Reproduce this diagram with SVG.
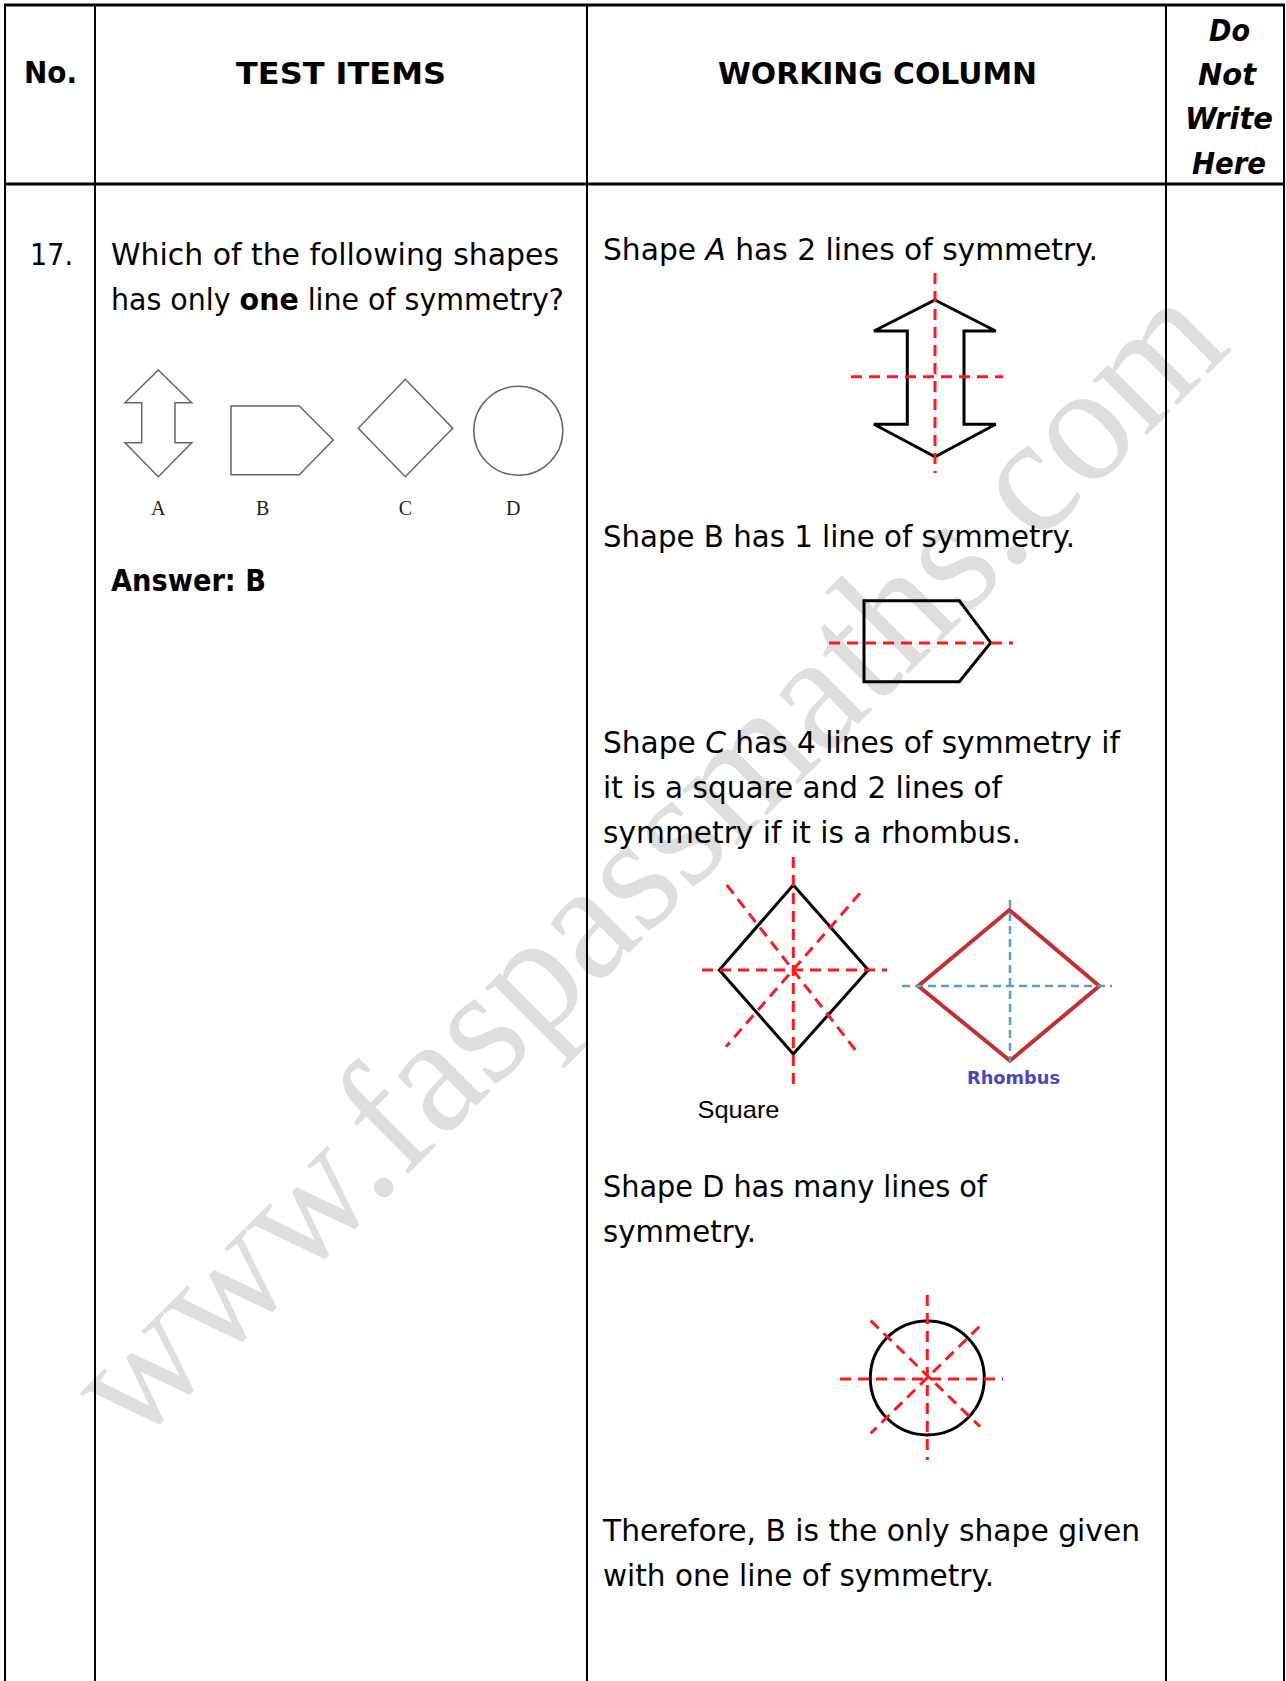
<svg xmlns="http://www.w3.org/2000/svg" width="1286" height="1681" viewBox="0 0 1286 1681">
<style>
.t{font-family:"DejaVu Sans",sans-serif;font-size:29.5px;fill:#000}
.h{font-family:"DejaVu Sans",sans-serif;font-size:30px;font-weight:bold;fill:#000}
.hi{font-style:italic}
.lbl{font-family:"Liberation Serif",serif;font-size:20px;fill:#222}
.g{fill:none;stroke:#666;stroke-width:1.5}
.k{fill:none;stroke:#000;stroke-width:3}
.rd{stroke:#ff1a1a;stroke-width:3;stroke-dasharray:11 7;fill:none}
.bd{stroke:#5b9bd5;stroke-width:2.5;stroke-dasharray:8 5;fill:none}
.grid{stroke:#000;stroke-width:2}
.wm{font-family:"Liberation Serif",serif;font-size:168px;fill:#dedede}
</style>
<rect width="1286" height="1681" fill="#fff"/>
<g id="watermark">
<text class="wm" transform="translate(134,1448) rotate(-45)" textLength="1555" lengthAdjust="spacingAndGlyphs">www.faspassmaths.com</text>
</g>
<g id="table">
<line class="grid" x1="5" y1="4" x2="5" y2="1681"/>
<line class="grid" x1="95" y1="4" x2="95" y2="1681"/>
<line class="grid" x1="587" y1="4" x2="587" y2="1681"/>
<line class="grid" x1="1166" y1="4" x2="1166" y2="1681"/>
<line class="grid" x1="1284" y1="4" x2="1284" y2="1681"/>
<line x1="4" y1="5" x2="1285" y2="5" stroke="#000" stroke-width="3"/>
<line x1="4" y1="184" x2="1285" y2="184" stroke="#000" stroke-width="3"/>
</g>
<g id="header">
<text class="h" x="24" y="83" textLength="53" lengthAdjust="spacingAndGlyphs">No.</text>
<text class="h" x="236" y="84" textLength="210" lengthAdjust="spacingAndGlyphs">TEST ITEMS</text>
<text class="h" x="718" y="84" textLength="319" lengthAdjust="spacingAndGlyphs">WORKING COLUMN</text>
<text class="h hi" x="1209" y="41" textLength="41" lengthAdjust="spacingAndGlyphs">Do</text>
<text class="h hi" x="1198" y="85" textLength="58" lengthAdjust="spacingAndGlyphs">Not</text>
<text class="h hi" x="1185" y="129" textLength="88" lengthAdjust="spacingAndGlyphs">Write</text>
<text class="h hi" x="1192" y="174" textLength="74" lengthAdjust="spacingAndGlyphs">Here</text>
</g>
<g id="question">
<text class="t" x="30" y="265" textLength="43" lengthAdjust="spacingAndGlyphs">17.</text>
<text class="t" x="111" y="265" textLength="448" lengthAdjust="spacingAndGlyphs">Which of the following shapes</text>
<text class="t" x="111" y="310" textLength="453" lengthAdjust="spacingAndGlyphs">has only <tspan font-weight="bold">one</tspan> line of symmetry?</text>
<text class="t" x="111" y="591" font-weight="bold" textLength="155" lengthAdjust="spacingAndGlyphs">Answer: B</text>
</g>
<g id="shapes-question">
<polygon class="g" points="158.3,370 191.7,402.7 175,402.7 175,442.7 191.7,442.7 158.3,476.7 125,442.7 141.7,442.7 141.7,402.7 125,402.7"/>
<polygon class="g" points="231,406 299.3,406 333.3,440 299.3,474.7 231,474.7"/>
<polygon class="g" points="405.3,379.3 452.7,428.3 405.3,476.7 358.3,428.3"/>
<circle class="g" cx="518.3" cy="430.7" r="44.5"/>
<text class="lbl" x="158.3" y="515" text-anchor="middle">A</text>
<text class="lbl" x="262.7" y="515" text-anchor="middle">B</text>
<text class="lbl" x="405.3" y="515" text-anchor="middle">C</text>
<text class="lbl" x="513.3" y="515" text-anchor="middle">D</text>
</g>
<g id="working-text">
<text class="t" x="603" y="260" textLength="495" lengthAdjust="spacingAndGlyphs">Shape <tspan class="hi">A</tspan> has 2 lines of symmetry.</text>
<text class="t" x="603" y="547" textLength="472" lengthAdjust="spacingAndGlyphs">Shape B has 1 line of symmetry.</text>
<text class="t" x="603" y="753" textLength="517" lengthAdjust="spacingAndGlyphs">Shape <tspan class="hi">C</tspan> has 4 lines of symmetry if</text>
<text class="t" x="603" y="798" textLength="399" lengthAdjust="spacingAndGlyphs">it is a square and 2 lines of</text>
<text class="t" x="603" y="843" textLength="418" lengthAdjust="spacingAndGlyphs">symmetry if it is a rhombus.</text>
<text class="t" x="603" y="1197" textLength="384" lengthAdjust="spacingAndGlyphs">Shape D has many lines of</text>
<text class="t" x="603" y="1242" textLength="153" lengthAdjust="spacingAndGlyphs">symmetry.</text>
<text class="t" x="603" y="1541" textLength="537" lengthAdjust="spacingAndGlyphs">Therefore, B is the only shape given</text>
<text class="t" x="603" y="1586" textLength="391" lengthAdjust="spacingAndGlyphs">with one line of symmetry.</text>
</g>
<g id="fig-a">
<polygon class="k" points="935,300 995.7,331 964,331 964,424.3 995.7,424.3 935,456.7 874,424.3 907.3,424.3 907.3,331 874,331"/>
<line class="rd" x1="935" y1="273" x2="935" y2="473"/>
<line class="rd" x1="851" y1="376.7" x2="1003" y2="376.7"/>
</g>
<g id="fig-b">
<polygon class="k" points="864,600.7 959.3,600.7 990.7,642.7 959.3,681.7 864,681.7"/>
<line class="rd" x1="829" y1="643" x2="1013" y2="643"/>
</g>
<g id="fig-c-square">
<polygon class="k" points="793.3,885 868.3,970 793.3,1054 719.3,970"/>
<line class="rd" x1="793.3" y1="857" x2="793.3" y2="1090"/>
<line class="rd" x1="702" y1="970" x2="887" y2="970"/>
<line class="rd" x1="726.7" y1="885" x2="856.7" y2="1051.7"/>
<line class="rd" x1="860" y1="893.3" x2="726" y2="1046.7"/>
<text x="697.5" y="1118" font-family="'Liberation Sans',sans-serif" font-size="24" textLength="82" lengthAdjust="spacingAndGlyphs" fill="#000">Square</text>
</g>
<g id="fig-c-rhombus">
<polygon points="1009.3,910 1099.3,986 1010,1060.7 918.3,986" fill="none" stroke="#c3302e" stroke-width="4"/>
<line class="bd" x1="1010" y1="900" x2="1010" y2="1063"/>
<line class="bd" x1="902" y1="986" x2="1112" y2="986"/>
<text x="967" y="1084" font-family="'DejaVu Sans',sans-serif" font-size="18" font-weight="bold" textLength="93" lengthAdjust="spacingAndGlyphs" fill="#4b45c0">Rhombus</text>
</g>
<g id="fig-d">
<circle class="k" cx="927.3" cy="1378" r="57"/>
<line class="rd" x1="927.3" y1="1295" x2="927.3" y2="1460"/>
<line class="rd" x1="840" y1="1379" x2="1003" y2="1379"/>
<line class="rd" x1="870.7" y1="1320.7" x2="980" y2="1426.7"/>
<line class="rd" x1="979.3" y1="1326.7" x2="870.7" y2="1433.3"/>
</g>
</svg>
